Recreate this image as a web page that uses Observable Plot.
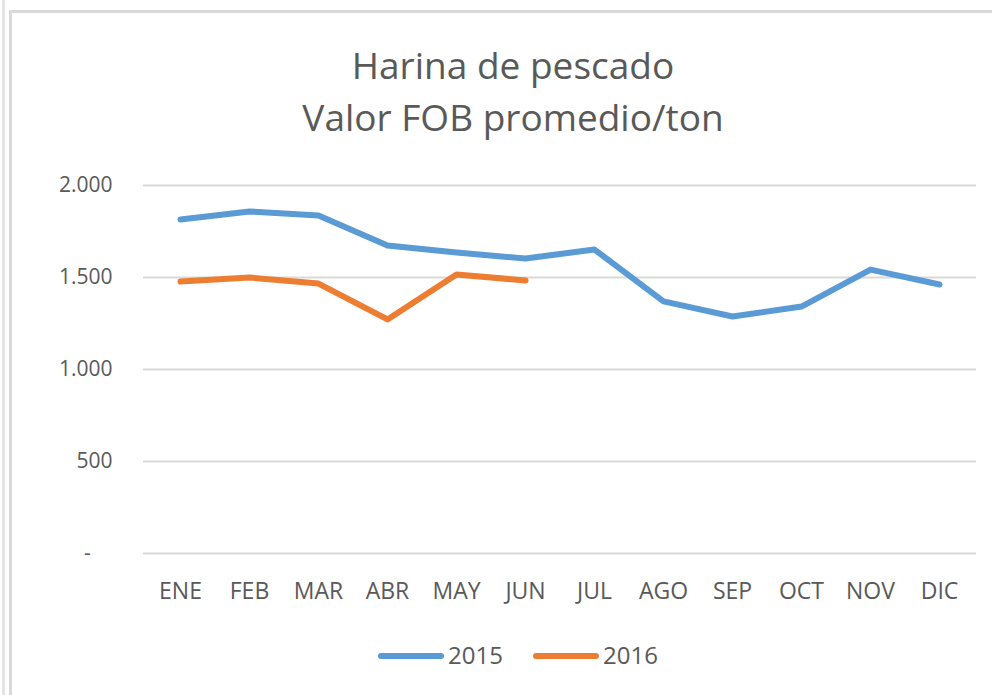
<!DOCTYPE html>
<html><head><meta charset="utf-8">
<script src="https://cdn.jsdelivr.net/npm/d3@7"></script>
<script src="https://cdn.jsdelivr.net/npm/@observablehq/plot@0.6"></script>
<style>
body{margin:0;background:#fff;width:992px;height:695px;overflow:hidden;position:relative;font-family:"Open Sans",sans-serif;color:#595959}
#edge{position:absolute;left:2px;top:0;width:3px;height:695px;background:#e4e4e4}
#frame{position:absolute;left:9px;top:10px;width:1000px;height:700px;border-left:3px solid #d9d9d9;border-top:3px solid #d9d9d9;box-sizing:border-box}
#title{position:absolute;left:30px;top:39px;width:966px;text-align:center;font-size:37px;line-height:52px;color:#595959}
#chart{position:absolute;left:0;top:150px}
#legend{position:absolute;left:0;top:638px;width:992px;height:34px}
.item{position:absolute;top:0;font-size:24px;line-height:34px;color:#595959}
.sw{display:inline-block;width:66px;height:6px;border-radius:3px;vertical-align:middle;margin-right:4px;position:relative;top:-2px}
</style>
</head><body>
<div id="edge"></div>
<div id="frame"></div>
<div id="title">Harina de pescado<br>Valor FOB promedio/ton</div>
<div id="chart"></div>
<div id="legend">
  <span class="item" style="left:378px"><span class="sw" style="background:#5b9bd5"></span>2015</span>
  <span class="item" style="left:533px"><span class="sw" style="background:#ed7d31"></span>2016</span>
</div>
<script>
const months = ["ENE","FEB","MAR","ABR","MAY","JUN","JUL","AGO","SEP","OCT","NOV","DIC"];
const values2015 = [1815,1859,1837,1674,1636,1603,1652,1370,1288,1342,1543,1462];
const values2016 = [1478,1500,1467,1272,1516,1484];
const yTicks = [0,500,1000,1500,2000];
const seriesColors = {"2015":"#5b9bd5","2016":"#ed7d31"};

const d2015 = values2015.map((v,i)=>({month:months[i],value:v}));
const d2016 = values2016.map((v,i)=>({month:months[i],value:v}));
const fmt = d => d === 0 ? "-\u00a0\u00a0\u00a0\u00a0" : d3.format(",")(d).replace(",", ".");

const chart = Plot.plot({
  width: 992,
  height: 480,
  marginLeft: 143,
  marginRight: 16,
  marginTop: 35,
  marginBottom: 77,
  style: {fontFamily: '"Open Sans", sans-serif', fontSize: "21px", color: "#595959", background: "transparent"},
  x: {type: "point", domain: months, padding: 0.5},
  y: {domain: [0, 2000]},
  marks: [
    Plot.ruleY(yTicks, {stroke: "#d9d9d9", strokeWidth: 2}),
    Plot.axisY(yTicks, {tickSize: 0, tickPadding: 31, tickFormat: fmt, label: null, fill: "#595959", fontSize: 21}),
    Plot.axisX(months, {tickSize: 0, tickPadding: 29, label: null, fill: "#595959", fontSize: 23}),
    Plot.lineY(d2015, {x: "month", y: "value", stroke: seriesColors["2015"], strokeWidth: 6, strokeLinejoin: "round", strokeLinecap: "round"}),
    Plot.lineY(d2016, {x: "month", y: "value", stroke: seriesColors["2016"], strokeWidth: 6, strokeLinejoin: "round", strokeLinecap: "round"})
  ]
});
document.getElementById("chart").appendChild(chart);
</script>
</body></html>
